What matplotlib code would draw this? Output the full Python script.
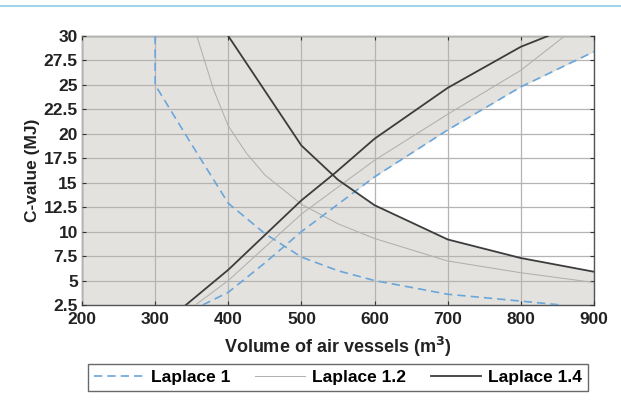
import numpy as np
import matplotlib
matplotlib.use("Agg")
import matplotlib.pyplot as plt
from matplotlib.lines import Line2D

plt.rcParams['font.family'] = ['Liberation Sans', 'DejaVu Sans']
plt.rcParams['font.weight'] = 'bold'
plt.rcParams['axes.labelweight'] = 'bold'
plt.rcParams['mathtext.default'] = 'bf'

# Laplace 1 (blue dashed)
vol_l1_dec = [300, 300, 350, 400, 450, 500, 550, 600, 700, 800, 855]
c_l1_dec = [30, 25, 18.9, 12.9, 9.8, 7.4, 6.0, 5.0, 3.6, 2.9, 2.5]
vol_l1_inc = [365, 400, 450, 500, 600, 700, 800, 900]
c_l1_inc = [2.5, 3.8, 6.8, 10.0, 15.6, 20.4, 24.8, 28.4]

# Laplace 1.2 (thin grey)
vol_l12_dec = [357, 380, 400, 425, 450, 500, 550, 600, 700, 800, 900]
c_l12_dec = [30, 24.5, 20.8, 18.0, 15.8, 12.8, 10.8, 9.3, 7.0, 5.8, 4.8]
vol_l12_inc = [355, 400, 500, 600, 700, 800, 860]
c_l12_inc = [2.5, 5.0, 11.8, 17.3, 22.0, 26.5, 30]

# Laplace 1.4 (black)
vol_l14_dec = [400, 500, 550, 600, 700, 800, 900]
c_l14_dec = [30, 18.8, 15.3, 12.7, 9.2, 7.3, 5.9]
vol_l14_inc = [342, 400, 500, 546, 600, 700, 800, 837]
c_l14_inc = [2.5, 6.1, 13.2, 16.0, 19.5, 24.7, 28.9, 30]

x_ticks = [200, 300, 400, 500, 600, 700, 800, 900]
y_ticks = [2.5, 5, 7.5, 10, 12.5, 15, 17.5, 20, 22.5, 25, 27.5, 30]
y_labels = ['2.5', '5', '7.5', '10', '12.5', '15', '17.5', '20', '22.5', '25', '27.5', '30']

fig = plt.figure(figsize=(6.21, 4.05), dpi=100)
ax = fig.add_axes([82 / 621, 1 - 305 / 405, 512 / 621, 269 / 405])
ax.set_facecolor('#e4e2de')

# white (unshaded) region: below Laplace 1 rising curve, above Laplace 1.4 falling curve
xs = np.linspace(200, 900, 701)
upper = np.interp(xs, vol_l1_inc, c_l1_inc, left=np.nan)
lower = np.interp(xs, vol_l14_dec, c_l14_dec)
ax.fill_between(xs, lower, upper, where=upper > lower, color='white', lw=0, zorder=1)

ax.grid(True, color='#b4b4b4', lw=0.9, zorder=2)
ax.set_axisbelow(False)

blue = dict(color='#6aa6da', lw=1.2, ls=(0, (5, 3)), zorder=4)
grey = dict(color='#b0b0b0', lw=0.75, ls='-', zorder=3)
black = dict(color='#3c3c3c', lw=1.3, ls='-', zorder=5)

ax.plot(vol_l1_dec, c_l1_dec, label='Laplace 1', **blue)
ax.plot(vol_l1_inc, c_l1_inc, **blue)
ax.plot(vol_l12_dec, c_l12_dec, label='Laplace 1.2', **grey)
ax.plot(vol_l12_inc, c_l12_inc, **grey)
ax.plot(vol_l14_dec, c_l14_dec, label='Laplace 1.4', **black)
ax.plot(vol_l14_inc, c_l14_inc, **black)

ax.set_xlim(200, 900)
ax.set_ylim(2.5, 30)
ax.set_xticks(x_ticks)
ax.set_yticks(y_ticks)
ax.set_yticklabels(y_labels)
ax.tick_params(direction='in', top=True, right=True, length=3, labelsize=12.5,
               colors='#333333', labelcolor='#222222', pad=3)
ax.tick_params(axis='x', pad=5)
for s in ax.spines.values():
    s.set_color('#555555')
    s.set_linewidth(1.0)

ax.set_xlabel('Volume of air vessels (m$^3$)', fontsize=13, fontweight='bold',
              color='#222222', labelpad=6)
ax.set_ylabel('C-value (MJ)', fontsize=12.5, fontweight='bold', color='#222222', labelpad=3)

leg = ax.legend(loc='center', bbox_to_anchor=(0.5, -0.27), ncol=3, fontsize=12.5,
                handlelength=2.9, columnspacing=1.4, handletextpad=0.4,
                frameon=True, fancybox=False, borderpad=0.35)
leg.get_frame().set_edgecolor('#444444')
leg.get_frame().set_linewidth(1.0)

fig.add_artist(Line2D([0, 1], [1 - 6 / 405, 1 - 6 / 405], color='#8ccfe6', lw=1.2,
                      transform=fig.transFigure))

fig.savefig('out.png', dpi=100)
